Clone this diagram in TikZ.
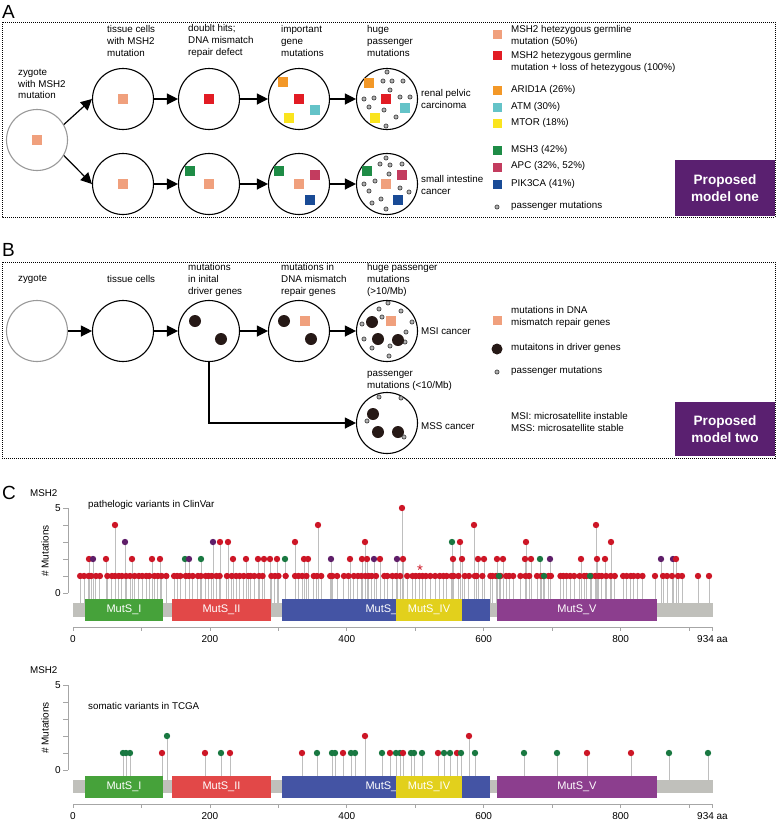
\documentclass[tikz,border=0pt]{standalone}
\usepackage{fontspec}
\setmainfont{Liberation Sans}
\usetikzlibrary{arrows.meta}

\definecolor{msalmon}{RGB}{240,160,125}
\definecolor{mred}{RGB}{226,28,36}
\definecolor{morange}{RGB}{243,152,40}
\definecolor{mcyan}{RGB}{100,195,200}
\definecolor{myellow}{RGB}{250,228,30}
\definecolor{mgreen}{RGB}{30,140,70}
\definecolor{mcrimson}{RGB}{195,60,95}
\definecolor{mblue}{RGB}{25,75,150}
\definecolor{mdriver}{RGB}{38,25,22}
\definecolor{mpurple}{RGB}{90,32,112}
\definecolor{domI}{RGB}{70,162,58}
\definecolor{domII}{RGB}{226,72,72}
\definecolor{domIII}{RGB}{68,84,164}
\definecolor{domIV}{RGB}{226,208,28}
\definecolor{domV}{RGB}{140,62,142}
\definecolor{lred}{RGB}{205,22,38}
\definecolor{lpurple}{RGB}{95,30,105}
\definecolor{lgreen}{RGB}{25,120,65}
\definecolor{stemgray}{RGB}{190,190,190}
\definecolor{bargray}{RGB}{192,192,187}

% small marks inside the cells
\newcommand\msq[4][5]{\fill[#2] (#3,#4) +(-#1,-#1) rectangle +(#1,#1);}
\newcommand\pdot[2]{\filldraw[pass] (#1,#2) circle (2.1pt);}
\newcommand\drv[2]{\fill[mdriver] (#1,#2) circle (6pt);}

% domains of the protein
\newcommand\protbar[1]{%
  \node[dom, fill=domI, minimum width=78pt] (mutsI#1) at (124,610) {MutS\_I};
  \node[dom, fill=domII, minimum width=99pt] (mutsII#1) at (221.5,610) {MutS\_II};
  \node[dom, fill=domIII, minimum width=208pt] (mutsIII#1) at (386,610) {MutS\_III};
  \node[dom, fill=domIV, minimum width=66pt] (mutsIV#1) at (429,610) {MutS\_IV};
  \node[dom, fill=domV, minimum width=160pt] (mutsV#1) at (577,610) {MutS\_V};
}
% axes of one lollipop plot
\newcommand\countaxis[1]{%
  \draw[axis] (68,508) -- (68,593);
  \foreach \t in {508,525,...,593} \draw[axis] (63,\t) -- (68,\t);
  \node[tick, anchor=east] (five#1) at (61,508) {5};
  \node[tick, anchor=east] (zero#1) at (61,593) {0};
  \node[tick, rotate=90] (ylab#1) at (45,551) {\# Mutations};
  \draw[axis] (73,627) -- (712.8,627);
  \foreach \a in {0,100,...,900,934} \draw[axis] ({73+0.6845*\a},627) -- ++(0,4);
  \foreach \a in {0,200,...,800} \node[tick] at ({73+0.6845*\a},639) {\a};
  \node[tick, anchor=west] (aa#1) at (697,639) {934 aa};
}

\begin{document}
\begin{tikzpicture}[x=1pt, y=-1pt,
  cell/.style={circle, draw, line width=1.1pt, minimum size=61pt, inner sep=0pt},
  zcell/.style={cell, draw=gray!80},
  arr/.style={-{Triangle[length=11pt,width=11pt]}, line width=1.2pt},
  lbl/.style={align=left, anchor=west, inner sep=0pt, font=\fontsize{9.8}{11.7}\selectfont},
  letter/.style={anchor=west, inner sep=0pt, font=\fontsize{19}{19}\selectfont},
  panel/.style={line width=1pt, dash pattern=on 1pt off 1pt},
  tag/.style={fill=mpurple, text=white, align=center, minimum width=100pt, font=\bfseries\fontsize{13.6}{17.5}\selectfont},
  pass/.style={fill=gray!60, draw=gray!25!black, line width=0.5pt},
  dom/.style={minimum height=22pt, inner sep=0pt, text=white, font=\fontsize{11}{11}\selectfont},
  tick/.style={inner sep=0pt, font=\fontsize{10}{12}\selectfont},
  axis/.style={draw=gray!70, line width=0.8pt},
  stem/.style={draw=stemgray, line width=1pt}]
\useasboundingbox (0,0) rectangle (778,820);

%% A
\node[letter] (labA) at (2,12) {A};
\draw[panel] (2,22) rectangle (775,217);

\node[zcell] (zygA) at (37,140) {};
\node[cell] (a1) at (123,99) {};
\node[cell] (a2) at (209,99) {};
\node[cell] (a3) at (299,99) {};
\node[cell] (a4) at (387,99) {};
\node[cell] (c1) at (123,184) {};
\node[cell] (c2) at (209,184) {};
\node[cell] (c3) at (299,184) {};
\node[cell] (c4) at (387,184) {};

\node[lbl] (tzygA) at (18,84) {zygote\\with MSH2\\mutation};
\node[lbl] (ta1) at (107,41) {tissue cells\\with MSH2\\mutation};
\node[lbl] (ta2) at (188,41) {doublt hits;\\DNA mismatch\\repair defect};
\node[lbl] (ta3) at (281,41) {important\\gene\\mutations};
\node[lbl] (ta4) at (367,41) {huge\\passenger\\mutations};
\node[lbl] (renal) at (421,99) {renal pelvic\\carcinoma};
\node[lbl] (intest) at (421,185) {small intestine\\cancer};

\draw[arr] (zygA.30) -- (a1.west);
\draw[arr] (zygA.-30) -- (c1.west);
\draw[arr] (a1) -- (a2);
\draw[arr] (a2) -- (a3);
\draw[arr] (a3) -- (a4);
\draw[arr] (c1) -- (c2);
\draw[arr] (c2) -- (c3);
\draw[arr] (c3) -- (c4);

\msq{msalmon}{37}{140}
\msq{msalmon}{123}{99}
\msq{mred}{209}{99}
\msq{morange}{283}{82} \msq{mred}{299}{99} \msq{mcyan}{315}{110} \msq{myellow}{289}{118}
\foreach \x/\y in {387/72,383/81,392/81,403/81,390/90,364/99,374/98,400/97,410/97,369/107,384/110,396/117,386/126}
  \pdot{\x}{\y};
\msq{morange}{369}{83} \msq{mred}{386}{99} \msq{mcyan}{405}{108} \msq{myellow}{375}{118}

\msq{msalmon}{123}{184}
\msq{mgreen}{190}{171} \msq{msalmon}{209}{184}
\msq{mgreen}{279}{171} \msq{mcrimson}{315}{175} \msq{msalmon}{299}{184} \msq{mblue}{310}{200}
\foreach \x/\y in {386/158,380/164,390/165,402/164,389/174,364/184,375/181,369/191,400/188,409/192,381/199,372/203,386/209}
  \pdot{\x}{\y};
\msq{mgreen}{367}{171} \msq{mcrimson}{402}{175} \msq{msalmon}{386}{184} \msq{mblue}{398}{200}

% legend A
\msq[4.5]{msalmon}{497}{34}
\node[lbl] (lgA1) at (511,36) {MSH2 hetezygous germline\\mutation (50\%)};
\msq[4.5]{mred}{497}{55}
\node[lbl] (lgA2) at (511,62) {MSH2 hetezygous germline\\mutation + loss of hetezygous (100\%)};
\msq[4.5]{morange}{497}{90}
\node[lbl] (lgA3) at (511,90) {ARID1A (26\%)};
\msq[4.5]{mcyan}{497}{107}
\node[lbl] (lgA4) at (511,107) {ATM (30\%)};
\msq[4.5]{myellow}{497}{123}
\node[lbl] (lgA5) at (511,123) {MTOR (18\%)};
\msq[4.5]{mgreen}{497}{150}
\node[lbl] (lgA6) at (511,150) {MSH3 (42\%)};
\msq[4.5]{mcrimson}{497}{167}
\node[lbl] (lgA7) at (511,166) {APC (32\%, 52\%)};
\msq[4.5]{mblue}{497}{184}
\node[lbl] (lgA8) at (511,184) {PIK3CA (41\%)};
\pdot{497}{207}
\node[lbl] (lgA9) at (511,206) {passenger mutations};

\node[tag, minimum height=56pt] (modelA) at (725,188) {Proposed\\model one};

%% B
\node[letter] (labB) at (2,250) {B};
\draw[panel] (2,262) rectangle (775,458);

\node[zcell] (zygB) at (37,331) {};
\node[cell] (b1) at (123,331) {};
\node[cell] (b2) at (209,331) {};
\node[cell] (b3) at (299,331) {};
\node[cell] (msi) at (387,331) {};
\node[cell] (mss) at (387,423) {};

\node[lbl] (tzygB) at (18,279) {zygote};
\node[lbl] (tb1) at (107,279) {tissue cells};
\node[lbl] (tb2) at (188,280) {mutations\\in inital\\driver genes};
\node[lbl] (tb3) at (281,280) {mutations in\\DNA mismatch\\repair genes};
\node[lbl] (tmsi) at (367,280) {huge passenger\\mutations\\(>10/Mb)};
\node[lbl] (tmss) at (367,381) {passenger\\mutations (<10/Mb)};
\node[lbl] (msic) at (421,331) {MSI cancer};
\node[lbl] (mssc) at (421,426) {MSS cancer};

\draw[arr] (zygB) -- (b1);
\draw[arr] (b1) -- (b2);
\draw[arr] (b2) -- (b3);
\draw[arr] (b3) -- (msi);
\draw[arr] (b2.south) |- (mss.west);

\drv{195}{321} \drv{221}{339}
\drv{284}{321} \msq{msalmon}{305}{321} \drv{311}{339}
\foreach \x/\y in {388/303,379/309,401/311,362/324,382/317,412/322,406/332,364/339,405/342,390/346,372/348,389/356}
  \pdot{\x}{\y};
\drv{372}{322} \msq{msalmon}{391}{321} \drv{378}{339} \drv{398}{340}
\drv{373}{414} \drv{378}{432} \drv{398}{432}
\foreach \x/\y in {379/397,401/398,367/421,404/437}
  \pdot{\x}{\y};

% legend B
\msq[4.5]{msalmon}{497}{320}
\node[lbl] (lgB1) at (511,317) {mutations in DNA\\mismatch repair genes};
\fill[mdriver] (497,349) circle (5.5pt);
\node[lbl] (lgB2) at (511,348) {mutaitons in driver genes};
\pdot{497}{372}
\node[lbl] (lgB3) at (511,371) {passenger mutations};
\node[lbl] (lgB4) at (511,422) {MSI: microsatellite instable\\MSS: microsatellite stable};

\node[tag, minimum height=54pt] (modelB) at (725,429) {Proposed\\model two};

%% C
\node[letter] (labC) at (2,493) {C};

% ClinVar
\node[lbl] (geneA) at (30,493) {MSH2};
\node[lbl] (ttlA) at (88,505) {pathelogic variants in ClinVar};
\fill[bargray] (73,603) rectangle (712.8,617);
\def\cvhigh{89/559/lred,93/559/lpurple,106/559/lred,132/559/lred,152/559/lred,160/559/lred,185/559/lgreen,189/559/lpurple,201/559/lgreen,233/559/lred,246/559/lred,258/559/lred,264/559/lred,270/559/lred,277/559/lred,285/559/lgreen,304/559/lred,308/559/lred,331/559/lpurple,350/559/lred,362/559/lred,367/559/lred,374/559/lpurple,380/559/lred,397/559/lpurple,403/559/lred,453/559/lred,462/559/lred,478/559/lred,484/559/lred,497/559/lred,503/559/lred,525/559/lred,531/559/lred,540/559/lgreen,550/559/lpurple,581/559/lred,597/559/lred,605/559/lred,661/559/lpurple,673/559/lpurple,676/559/lred,125/542/lpurple,213/542/lpurple,220/542/lred,228/542/lred,295/542/lred,365/542/lred,452/542/lgreen,460/542/lred,526/542/lred,611/542/lred,115/525/lred,318/525/lred,474/525/lred,596/525/lred,402/508/lred}
\def\cvlow{655/lred,663/lred,667/lred,672/lred,678/lred,682/lred,698/lred,709/lred,499/lgreen,544/lgreen,590/lgreen}
\pgfmathsetseed{7}
\foreach \i in {0,...,147}{%
  \pgfmathsetmacro\px{76+3.9*\i+1.2*rand}%
  \pgfmathtruncatemacro\keep{rnd>0.14}%
  \ifnum\keep=1 \draw[stem] (\px,603) -- (\px,576);\fi
}
\foreach \x/\c in \cvlow \draw[stem] (\x,603) -- (\x,576);
\foreach \x/\y/\c in \cvhigh \draw[stem] (\x,603) -- (\x,\y);
\protbar{A}
\pgfmathsetseed{7}
\foreach \i in {0,...,147}{%
  \pgfmathsetmacro\px{76+3.9*\i+1.2*rand}%
  \pgfmathtruncatemacro\keep{rnd>0.14}%
  \ifnum\keep=1 \fill[lred] (\px,576) circle (3.2pt);\fi
}
\foreach \x/\c in \cvlow \fill[\c] (\x,576) circle (3.2pt);
\foreach \x/\y/\c in \cvhigh \fill[\c] (\x,\y) circle (3.2pt);
\node[text=lred, inner sep=0pt, font=\fontsize{15}{15}\selectfont] (star) at (420,570) {*};
\countaxis{A}

% TCGA
\begin{scope}[yshift=-177pt]
\node[lbl] (geneB) at (30,493) {MSH2};
\node[lbl] (ttlB) at (88,529) {somatic variants in TCGA};
\fill[bargray] (73,603) rectangle (712.8,616);
\def\tcga{123/576/lgreen,126/576/lgreen,130/576/lgreen,162/576/lred,205/576/lred,221/576/lgreen,230/576/lred,302/576/lred,317/576/lgreen,332/576/lgreen,335/576/lgreen,343/576/lred,351/576/lgreen,355/576/lgreen,382/576/lgreen,390/576/lred,396/576/lgreen,400/576/lgreen,403/576/lred,411/576/lgreen,414/576/lgreen,422/576/lgreen,438/576/lred,444/576/lgreen,450/576/lgreen,457/576/lred,461/576/lgreen,475/576/lgreen,524/576/lgreen,557/576/lgreen,587/576/lred,631/576/lred,669/576/lgreen,708/576/lgreen,167/559/lgreen,365/559/lred,469/559/lred}
\foreach \x/\y/\c in \tcga \draw[stem] (\x,603) -- (\x,\y);
\protbar{B}
\foreach \x/\y/\c in \tcga \fill[\c] (\x,\y) circle (3.2pt);
\countaxis{B}
\end{scope}

\end{tikzpicture}
\end{document}
